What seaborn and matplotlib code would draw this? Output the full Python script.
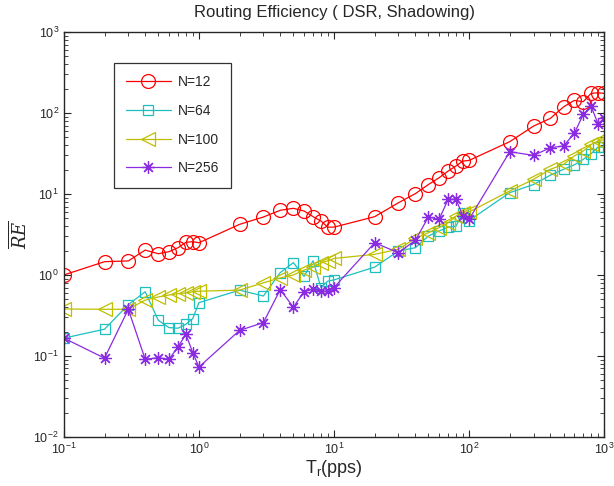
import numpy as np
import pandas as pd
import matplotlib
matplotlib.use("Agg")
import matplotlib.pyplot as plt
import seaborn as sns
from matplotlib.ticker import LogLocator, NullFormatter

tr = [0.1, 0.2, 0.3, 0.4, 0.5, 0.6, 0.7, 0.8, 0.9, 1,
      2, 3, 4, 5, 6, 7, 8, 9, 10,
      20, 30, 40, 50, 60, 70, 80, 90, 100,
      200, 300, 400, 500, 600, 700, 800, 900, 1000]

re_n12 = [1.0, 1.46, 1.49, 2.03, 1.83, 1.94, 2.17, 2.53, 2.58, 2.5,
          4.22, 5.2, 6.3, 6.66, 6.17, 5.25, 4.64, 3.9, 3.9,
          5.25, 7.8, 10.1, 13.1, 15.9, 19.2, 22.2, 25.5, 26.0,
          44.3, 69, 86, 119, 143, 138, 175, 178, 175]

re_n64 = [0.166, 0.214, 0.43, 0.62, 0.276, 0.224, 0.22, 0.246, 0.29, 0.455,
          0.65, 0.55, 1.07, 1.42, 0.96, 1.5, 0.70, 0.84, 0.87,
          1.25, 1.98, 2.17, 3.03, 3.5, 3.9, 4.0, 5.9, 4.7,
          10.4, 13.1, 17.1, 20.2, 22.9, 26.8, 31.4, 38, 38]

re_n100 = [0.38, 0.377, 0.377, 0.49, 0.535, 0.566, 0.588, 0.6, 0.62, 0.63,
           0.65, 0.8, 0.92, 1.0, 1.15, 1.25, 1.4, 1.5, 1.6,
           1.8, 2.08, 2.84, 3.33, 3.84, 4.42, 5.35, 5.9, 6.0,
           10.9, 15.2, 20.2, 23.2, 29.5, 34, 41, 45, 47]

re_n256 = [0.166, 0.094, 0.377, 0.091, 0.095, 0.091, 0.129, 0.185, 0.11, 0.073,
           0.207, 0.258, 0.66, 0.40, 0.62, 0.67, 0.63, 0.63, 0.70,
           2.5, 1.88, 2.68, 5.2, 4.87, 8.6, 8.6, 5.35, 4.87,
           33.3, 30, 37.3, 39.2, 56, 96, 121, 74, 86]

labels = ["N=12", "N=64", "N=100", "N=256"]
series = [re_n12, re_n64, re_n100, re_n256]
colors = ["#ff0000", "#1fbfbf", "#bfbf00", "#8a2be2"]
markers = ["o", "s", "<", (8, 2, 0)]
msizes = [10, 7.5, 10, 9]

sns.set_style("ticks")
plt.rcParams['font.family'] = ['Liberation Sans', 'DejaVu Sans']
plt.rcParams['mathtext.fontset'] = 'dejavuserif'

fig = plt.figure(figsize=(6.14, 4.86), dpi=100)
ax = fig.add_axes([0.104, 0.101, 0.880, 0.833])

for lab, vals, c, m, ms in zip(labels, series, colors, markers, msizes):
    df = pd.DataFrame({"Tr": tr, "RE": vals})
    sns.lineplot(data=df, x="Tr", y="RE", ax=ax, color=c, marker=m,
                 markersize=ms, markerfacecolor="none", markeredgecolor=c,
                 markeredgewidth=0.9, linewidth=0.9, label=lab,
                 legend=False, errorbar=None)

ax.set_xscale("log")
ax.set_yscale("log")
ax.set_xlim(0.1, 1000)
ax.set_ylim(0.01, 1000)

ax.xaxis.set_minor_locator(LogLocator(base=10, subs=np.arange(2, 10), numticks=20))
ax.yaxis.set_minor_locator(LogLocator(base=10, subs=np.arange(2, 10), numticks=20))
ax.xaxis.set_minor_formatter(NullFormatter())
ax.yaxis.set_minor_formatter(NullFormatter())
ax.tick_params(which="both", direction="in", top=True, right=True, labelsize=9)
ax.tick_params(which="major", length=5, width=0.8)
ax.tick_params(which="minor", length=3, width=0.6)
for s in ax.spines.values():
    s.set_linewidth(1.0)
    s.set_visible(True)

ax.set_title("Routing Efficiency ( DSR, Shadowing)", fontsize=12, pad=11)
ax.set_xlabel("T$_\\mathregular{r}$(pps)", fontsize=13, labelpad=1)
ax.set_ylabel("$\\overline{RE}$", fontsize=13, labelpad=2)

leg = ax.legend(loc="upper left", bbox_to_anchor=(0.092, 0.924), frameon=True,
                fancybox=False, edgecolor="black", fontsize=10, handlelength=3.2,
                numpoints=1, labelspacing=1.05, borderpad=0.9, handletextpad=0.5,
                borderaxespad=0)
leg.get_frame().set_linewidth(0.9)

fig.savefig("out.png", dpi=100)
